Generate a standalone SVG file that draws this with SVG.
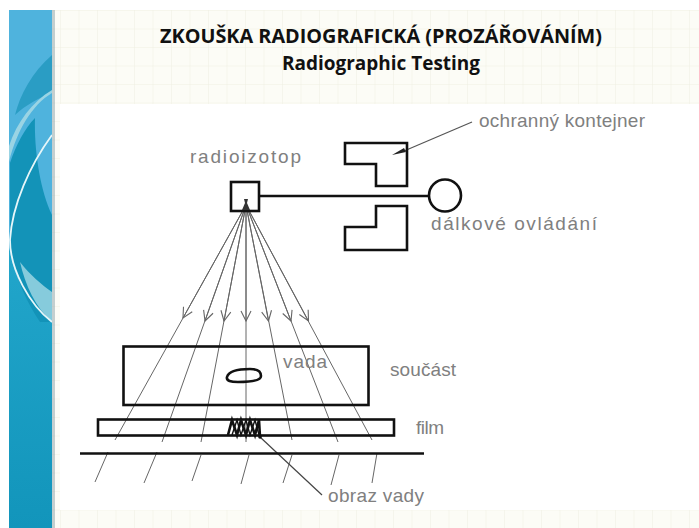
<svg xmlns="http://www.w3.org/2000/svg" width="699" height="528" viewBox="0 0 699 528">
<style>
.t{font-family:"Liberation Sans",sans-serif;fill:#808080;font-size:19px}
.h{font-family:"Open Sans","Liberation Sans",sans-serif;font-weight:700;fill:#111;text-anchor:middle;font-size:19.5px}
.b{fill:none;stroke:#111;stroke-width:2.6}
.r{fill:none;stroke:#666;stroke-width:1}
</style>
<defs>
<pattern id="g" width="18.5" height="18.5" patternUnits="userSpaceOnUse" x="60" y="10">
<rect width="18.5" height="18.5" fill="#fcfcf6"/>
<path d="M0 0V18.5M0 0H18.5" stroke="#f0f0e3" stroke-width="1" fill="none"/>
</pattern>
<linearGradient id="tl" x1="0" y1="0" x2="0" y2="1"><stop offset="0" stop-color="#22a6cb"/><stop offset="1" stop-color="#1295bb"/></linearGradient>
<marker id="a" viewBox="0 0 12 12" refX="11" refY="6" markerWidth="12" markerHeight="12" markerUnits="userSpaceOnUse" orient="auto"><path d="M1 1L11 6L1 11" fill="none" stroke="#666" stroke-width="1.1"/></marker>
</defs>
<rect width="699" height="528" fill="#fff"/>
<g id="background">
<rect x="52" y="10" width="647" height="518" fill="url(#g)"/>
<rect x="60" y="104" width="639" height="406" fill="#fff"/>
<rect x="9" y="10" width="43" height="518" fill="#4fb3dd"/>
<path d="M9 245C14 285 35 310 52 322V528H9Z" fill="url(#tl)"/>
<path d="M52 55C32 72 20 95 15 115C25 105 40 98 52 92Z" fill="#2a9dc4"/>
<path d="M52 93C32 105 17 130 9 162V146C17 122 32 102 52 90Z" fill="#9ad4e4"/>
<path d="M10 163C16 145 25 128 35 118C34 150 40 190 52 215V322H40C25 300 12 270 10 240Z" fill="#1393b8"/>
<path d="M20 262C30 275 42 285 52 292V322C36 308 25 285 20 262Z" fill="#86cbdc"/>
<path d="M52 135C30 165 12 205 10 240C10 270 30 305 52 322" fill="none" stroke="#e6f6f9" stroke-width="1.800"/>
<rect x="52" y="10" width="3" height="518" fill="#8aa2a8" opacity=".5"/>
</g>
<g id="title">
<text class="h" x="381" y="43" textLength="442" lengthAdjust="spacingAndGlyphs">ZKOUŠKA RADIOGRAFICKÁ (PROZÁŘOVÁNÍM)</text>
<text class="h" x="381" y="70" textLength="198" lengthAdjust="spacingAndGlyphs">Radiographic Testing</text>
</g>
<g id="connectors">
<path class="r" d="M246 205L115 440M108 452L95 482"/>
<path class="r" d="M246 205L162 442M157 452L144 483"/>
<path class="r" d="M246 205L201 442M201 455L192 481"/>
<path class="r" d="M246 205V442M249 455L241 484"/>
<path class="r" d="M246 205L292 440M292 455L283 483"/>
<path class="r" d="M246 205L338 442M339 455L331 485"/>
<path class="r" d="M246 205L372 440M377 453L372 483"/>
<path class="r" marker-end="url(#a)" d="M246 205L183 318"/>
<path class="r" marker-end="url(#a)" d="M246 205L205 321"/>
<path class="r" marker-end="url(#a)" d="M246 205L224 321"/>
<path class="r" marker-end="url(#a)" d="M246 205V321"/>
<path class="r" marker-end="url(#a)" d="M246 205L268.500 321"/>
<path class="r" marker-end="url(#a)" d="M246 205L291 321"/>
<path class="r" marker-end="url(#a)" d="M246 205L308.500 321"/>
<path d="M260 196H430" class="b"/>
<path d="M260 437L322 495" fill="none" stroke="#444" stroke-width="1.2"/>
<path d="M472 122L404 151" fill="none" stroke="#555" stroke-width="1.2"/>
<path d="M404 148L392 155L406 152Z" fill="#222"/>
</g>
<g id="radioizotop">
<rect class="b" x="231" y="182" width="28" height="29"/>
<path d="M244 199H248L247 203L250 210H242L245 203Z" fill="#333"/>
<text class="t" x="190" y="163" textLength="111" lengthAdjust="spacing">radioizotop</text>
</g>
<g id="kontejner">
<path class="b" d="M345 143H407V186H376V164H345Z"/>
<path class="b" d="M376 206H407V250H345V227H376Z"/>
<text class="t" x="479" y="127" textLength="166" lengthAdjust="spacing">ochranný kontejner</text>
</g>
<g id="ovladani">
<circle class="b" cx="445" cy="195.500" r="16"/>
<text class="t" x="431" y="230" textLength="166" lengthAdjust="spacing">dálkové ovládání</text>
</g>
<g id="soucast">
<rect class="b" x="123.500" y="346.500" width="245" height="58.500"/>
<path class="b" d="M227 377C229 370 240 369 250 369C258 369 261 372 261 376C261 381 250 382 238 382C231 382 226 381 227 377Z"/>
<text class="t" x="283" y="368" textLength="44" lengthAdjust="spacing">vada</text>
<text class="t" x="390" y="376" textLength="66" lengthAdjust="spacing">součást</text>
</g>
<g id="film">
<rect class="b" x="98" y="419.500" width="296" height="16"/>
<path class="b" stroke-width="2.200" d="M228 435L232 420L237 435L241 420L246 435L250 420L255 435L259 420L260 437"/>
<path fill="none" stroke="#111" stroke-width="1.400" d="M232 435L237 420L241 435L246 420L250 435L255 420L259 435"/>
<circle cx="260" cy="437" r="1.800" fill="#111"/>
<text class="t" x="416" y="434" textLength="28" lengthAdjust="spacing">film</text>
</g>
<g id="podklad">
<path class="b" d="M80 453.500H424"/>
</g>
<g id="obraz">
<text class="t" x="328" y="502" textLength="96" lengthAdjust="spacing">obraz vady</text>
</g>
</svg>
